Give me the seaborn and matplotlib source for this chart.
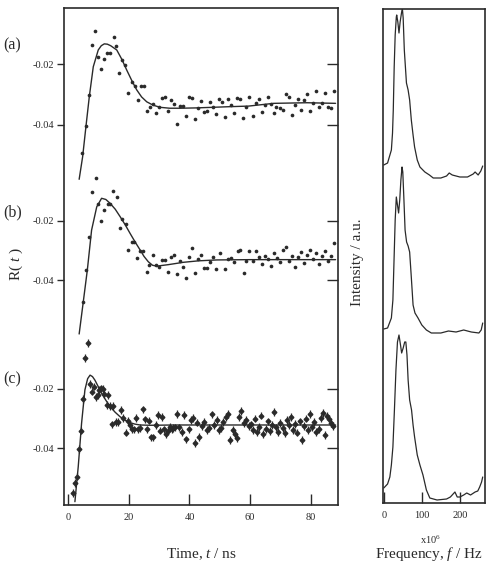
import numpy as np
import pandas as pd
import seaborn as sns
import matplotlib
matplotlib.use("Agg")
import matplotlib.pyplot as plt

# ---- R(t) panel (a) : measured points and fitted curve
t_a = [4.6, 5.85, 6.85, 7.8, 8.9, 9.8, 10.8, 11.9, 12.9, 13.8,
       15.0, 15.9, 16.9, 17.9, 18.8, 19.8, 20.9, 21.9, 22.9, 23.9,
       24.9, 25.9, 26.9, 27.9, 28.9, 29.9, 30.9, 31.9, 32.9, 33.9,
       34.8, 35.8, 36.8, 37.8, 38.8, 39.8, 40.8, 41.8, 42.8, 43.8,
       44.8, 45.8, 46.7, 47.7, 48.8, 49.8, 50.8, 51.8, 52.8, 53.8,
       54.8, 55.8, 56.8, 57.8, 58.7, 59.7,
       60.8, 61.8, 62.8, 63.8, 64.8, 65.8, 66.8, 67.8, 68.7, 69.8,
       70.7, 71.7, 72.7, 73.7, 74.7, 75.7, 76.7, 77.7, 78.8, 79.8,
       80.8, 81.8, 82.8, 83.8, 84.8, 85.8, 86.7, 87.8]
r_a = [-0.0493, -0.0403, -0.0300, -0.0138, -0.0091, -0.0176, -0.0217, -0.0185, -0.0163, -0.0163,
       -0.0111, -0.0140, -0.0230, -0.0187, -0.0203, -0.0294, -0.0258, -0.0272, -0.0318, -0.0272,
       -0.0272, -0.0353, -0.0340, -0.0331, -0.0362, -0.0342, -0.0312, -0.0309, -0.0353, -0.0318,
       -0.0331, -0.0397, -0.0338, -0.0338, -0.0370, -0.0309, -0.0312, -0.0381, -0.0345, -0.0320,
       -0.0356, -0.0353, -0.0324, -0.0342, -0.0364, -0.0316, -0.0324, -0.0373, -0.0316, -0.0334,
       -0.0362, -0.0310, -0.0316, -0.0378, -0.0340, -0.0309,
       -0.0370, -0.0327, -0.0316, -0.0356, -0.0334, -0.0307, -0.0331, -0.0362, -0.0340, -0.0345,
       -0.0351, -0.0298, -0.0309, -0.0367, -0.0334, -0.0316, -0.0351, -0.0318, -0.0298, -0.0353,
       -0.0327, -0.0288, -0.0340, -0.0327, -0.0294, -0.0342, -0.0345, -0.0288]
t_a_fit = [3.6, 4.75, 5.85, 6.95, 8.26, 9.9, 10.9, 11.9, 12.9, 14.0, 16.0, 17.7, 19.3, 21.0,
           22.6, 24.2, 25.9, 28.0, 30.3, 33.5, 36.9, 42, 47.7, 53, 59.5, 67.8, 78.8, 88.2]
r_a_fit = [-0.0578, -0.0504, -0.0404, -0.0307, -0.0209, -0.0154, -0.0140, -0.0134, -0.0135,
           -0.0140, -0.0154, -0.0185, -0.0220, -0.0255, -0.0285, -0.0308, -0.0324, -0.0335,
           -0.0342, -0.0345, -0.0345, -0.0344, -0.0342, -0.0340, -0.0338, -0.0329, -0.0327, -0.0329]

# ---- panel (b)
t_b = [4.96, 5.85, 6.85, 7.8, 9.05, 9.9, 10.9, 11.9, 13.0, 13.9,
       14.9, 16.0, 17.1, 17.9, 19.0, 19.8, 20.9, 21.7, 22.8, 23.7,
       24.8, 25.9, 26.8, 27.9, 28.9, 29.9, 30.9, 31.9, 32.9, 33.9,
       34.8, 35.8, 36.8, 37.9, 38.8, 39.9, 40.8, 41.9, 42.9, 43.9,
       44.9, 45.8, 46.8, 47.8, 48.8, 50.1, 51.8, 52.8, 53.8, 54.8,
       55.9, 56.8, 57.9, 58.7, 59.5,
       60.8, 61.8, 62.8, 63.8, 64.8, 65.8, 66.8, 67.8, 68.8, 69.8,
       70.8, 71.8, 72.8, 73.8, 74.8, 75.8, 76.8, 77.8, 78.8, 79.8,
       80.8, 81.8, 82.8, 83.8, 84.8, 85.8, 86.8, 87.8]
r_b = [-0.0474, -0.0366, -0.0253, -0.0101, -0.0055, -0.0143, -0.0200, -0.0163, -0.0143, -0.0143,
       -0.0098, -0.0118, -0.0225, -0.0194, -0.0211, -0.0298, -0.0270, -0.0270, -0.0326, -0.0301,
       -0.0301, -0.0374, -0.0349, -0.0315, -0.0349, -0.0355, -0.0332, -0.0332, -0.0374, -0.0321,
       -0.0315, -0.0380, -0.0335, -0.0355, -0.0394, -0.0321, -0.0293, -0.0375, -0.0330, -0.0315,
       -0.0360, -0.0360, -0.0338, -0.0321, -0.0364, -0.0309, -0.0363, -0.0330, -0.0326, -0.0340,
       -0.0301, -0.0298, -0.0375, -0.0335, -0.0301,
       -0.0336, -0.0300, -0.0321, -0.0345, -0.0318, -0.0330, -0.0352, -0.0309, -0.0326, -0.0340,
       -0.0297, -0.0288, -0.0335, -0.0318, -0.0356, -0.0322, -0.0305, -0.0341, -0.0314, -0.0298,
       -0.0330, -0.0310, -0.0346, -0.0320, -0.0302, -0.0336, -0.0318, -0.0276]
t_b_fit = [3.6, 4.96, 6.3, 7.7, 9.4, 11.0, 12.4, 13.8, 15.5, 17.1, 18.8, 20.4, 22.0, 23.7,
           25.0, 26.4, 27.8, 29.2, 33, 38, 43, 49, 60, 70, 80, 88.2]
r_b_fit = [-0.0583, -0.0474, -0.0366, -0.0231, -0.0152, -0.0123, -0.0127, -0.0140, -0.0160,
           -0.0185, -0.0213, -0.0242, -0.0270, -0.0298, -0.0320, -0.0338, -0.0350, -0.0353,
           -0.0348, -0.0340, -0.0335, -0.0332, -0.0331, -0.0331, -0.0331, -0.0331]

# ---- panel (c), points carry error bars
t_c = [1.66, 2.2, 3.0, 3.5, 4.2, 5.0, 5.6, 6.4, 7.2, 7.9,
       8.6, 9.2, 9.7, 10.2, 10.8, 11.4, 11.9, 12.7, 13.2, 13.8,
       14.3, 14.9, 15.8, 16.5, 17.4, 18.2, 19.0, 19.6, 20.4, 20.9,
       21.7, 22.4, 23.1, 23.7, 24.6, 25.4, 26.1, 26.8, 27.4, 28.1,
       28.9, 29.6, 30.3, 31.0, 31.6, 32.3, 32.9, 33.5, 34.2, 34.7,
       35.3, 36.0, 36.7, 37.4, 38.2, 38.9, 39.7, 40.5, 41.0, 41.9,
       42.6, 43.3, 44.1, 44.9, 45.8, 46.4, 47.4, 48.2, 49.1, 49.8,
       50.5, 51.2, 52.1, 52.8, 53.5, 54.2, 54.9, 55.7, 56.3, 57.0,
       57.9, 58.7, 59.5,
       60.2, 60.9, 61.6, 62.3, 63.0, 63.7, 64.4, 65.1, 65.8, 66.5,
       67.2, 67.9, 68.6, 69.3, 70.0, 70.7, 71.4, 72.1, 72.8, 73.5,
       74.2, 74.9, 75.6, 76.3, 77.0, 77.7, 78.4, 79.1, 79.8, 80.5,
       81.2, 81.9, 82.6, 83.3, 84.0, 84.7, 85.4, 86.1, 86.8, 87.5]
r_c = [-0.0552, -0.0518, -0.0497, -0.0404, -0.0341, -0.0235, -0.0096, -0.0045, -0.0184, -0.0209,
       -0.0192, -0.0226, -0.0220, -0.0203, -0.0198, -0.0201, -0.0218, -0.0254, -0.0220, -0.0258,
       -0.0320, -0.0258, -0.0311, -0.0311, -0.0271, -0.0299, -0.0348, -0.0308, -0.0322, -0.0337,
       -0.0337, -0.0299, -0.0337, -0.0333, -0.0269, -0.0303, -0.0337, -0.0307, -0.0364, -0.0364,
       -0.0322, -0.0288, -0.0341, -0.0296, -0.0337, -0.0353, -0.0341, -0.0328, -0.0337, -0.0333,
       -0.0330, -0.0285, -0.0330, -0.0345, -0.0288, -0.0371, -0.0337, -0.0305, -0.0299, -0.0384,
       -0.0314, -0.0362, -0.0325, -0.0311, -0.0339, -0.0333, -0.0286, -0.0322, -0.0305, -0.0339,
       -0.0333, -0.0311, -0.0294, -0.0285, -0.0373, -0.0339, -0.0353, -0.0367, -0.0294, -0.0274,
       -0.0316, -0.0305, -0.0325,
       -0.0320, -0.0338, -0.0300, -0.0345, -0.0328, -0.0290, -0.0352, -0.0335, -0.0310, -0.0342,
       -0.0322, -0.0278, -0.0330, -0.0345, -0.0315, -0.0333, -0.0350, -0.0305, -0.0322, -0.0295,
       -0.0338, -0.0318, -0.0348, -0.0310, -0.0372, -0.0325, -0.0300, -0.0340, -0.0285, -0.0330,
       -0.0312, -0.0345, -0.0335, -0.0298, -0.0282, -0.0355, -0.0290, -0.0300, -0.0315, -0.0325]
t_c_fit = [2.2, 3.3, 4.4, 5.5, 6.4, 7.2, 8.0, 8.8, 9.9, 11.0, 12.4, 13.8, 15.5, 17.1, 18.8,
           20.4, 22.0, 23.7, 27, 35, 50, 70, 88.2]
r_c_fit = [-0.0582, -0.0463, -0.0316, -0.0203, -0.0165, -0.0153, -0.0158, -0.0170, -0.0192,
           -0.0215, -0.0238, -0.0260, -0.0279, -0.0294, -0.0306, -0.0314, -0.0319, -0.0322,
           -0.0323, -0.0322, -0.0322, -0.0322, -0.0322]
c_err = 0.0013

# ---- spectra, intensity (a.u.) above each trace's own floor
f_a = [0, 10, 20, 23, 25, 27.4, 30, 33, 34, 37, 40, 43, 47, 49, 51, 54, 59.6, 64, 68, 72.4,
       77, 81, 88, 95, 108, 120, 130, 150, 165, 172, 180, 200, 220, 235, 240, 248, 255, 260]
i_a = [13, 15, 28, 45, 68, 111, 143, 161, 163, 156, 145, 156, 166, 169, 160, 128, 95, 88, 78, 58,
       43, 31, 18, 11, 6, 3, 0, 0, 2, 5, 3, 1, 1, 4, 6, 3, 7, 12]
f_b = [0, 10, 20, 24, 27, 30, 33, 36, 39, 42, 45, 48, 50, 53, 56, 60, 64, 68, 72, 77, 82, 90,
       100, 112, 125, 150, 170, 190, 210, 230, 250, 256, 260]
i_b = [4, 5, 15, 33, 73, 113, 136, 128, 120, 133, 153, 166, 161, 133, 103, 91, 87, 81, 58, 28,
       20, 15, 8, 3, 0, 0, 2, 1, 3, 1, 0, 3, 10]
f_c = [0, 10, 16, 20, 24, 28, 32, 36, 40, 44, 47, 51, 55, 58, 61, 64, 68, 73, 77, 81, 88, 95,
       103, 112, 121, 140, 165, 175, 187, 193, 200, 210, 218, 228, 240, 247, 252, 257, 260]
i_c = [12, 16, 23, 35, 53, 90, 130, 158, 165, 155, 147, 152, 158, 158, 145, 120, 100, 90, 75,
       63, 45, 35, 25, 10, 2, 0, 1, 3, 8, 3, 3, 5, 7, 5, 8, 9, 13, 18, 23]

sns.set_style("ticks")
plt.rcParams['font.family'] = ['Liberation Serif', 'DejaVu Serif']
plt.rcParams['mathtext.fontset'] = 'custom'
plt.rcParams['mathtext.rm'] = 'Liberation Serif'
plt.rcParams['mathtext.it'] = 'Liberation Serif:italic'

INK = '#2a2a2a'
W, H = 490, 568
fig = plt.figure(figsize=(W / 100, H / 100), dpi=100)


def box(l, t, r, b):
    return [l / W, 1 - b / H, (r - l) / W, (b - t) / H]


L_TOP, L_BOT = 8, 505


def ylim_from(p02, p04):
    # pixel rows where -0.02 and -0.04 sit for this trace
    per_px = 0.02 / (p04 - p02)
    return (-0.04 - (L_BOT - p04) * per_px, -0.02 + (p02 - L_TOP) * per_px)


panels = [("(a)", t_a, r_a, t_a_fit, r_a_fit, (64, 125), 45),
          ("(b)", t_b, r_b, t_b_fit, r_b_fit, (221, 280), 212),
          ("(c)", t_c, r_c, t_c_fit, r_c_fit, (389, 448), 379)]

for k, (tag, t, r, tf, rf, ticks_px, tag_y) in enumerate(panels):
    ax = fig.add_axes(box(64, L_TOP, 338, L_BOT))
    ax.patch.set_alpha(0)
    if tag == "(c)":
        ax.errorbar(t, r, yerr=c_err, fmt='D', ms=2.4, color=INK, mec=INK,
                    elinewidth=0.9, capsize=0, zorder=3)
    else:
        sns.scatterplot(x=t, y=r, ax=ax, color=INK, s=7, linewidth=0, zorder=3)
    sns.lineplot(x=tf, y=rf, ax=ax, color=INK, lw=1.0, sort=False, estimator=None)
    ax.set_xlim(-1.4, 89)
    ax.set_ylim(*ylim_from(*ticks_px))
    ax.set_yticks([-0.02, -0.04])
    ax.set_yticklabels(['-0.02', '-0.04'])
    ax.tick_params(axis='y', direction='out', length=5, width=1.0, color=INK,
                   labelsize=7.5, labelcolor=INK, pad=2)
    sec = ax.secondary_yaxis('right')
    sec.set_yticks([-0.02, -0.04])
    sec.tick_params(direction='in', length=8, width=1.0, color=INK, labelright=False)
    sec.spines['right'].set_visible(False)
    ax.set_xlabel('')
    ax.set_ylabel('')
    if k == 0:
        for s in ax.spines.values():
            s.set_linewidth(1.2)
            s.set_color(INK)
        ax.set_xticks([0, 20, 40, 60, 80])
        ax.tick_params(axis='x', direction='in', length=8, width=1.0, color=INK,
                       labelsize=7.5, labelcolor=INK, pad=6)
    else:
        for s in ax.spines.values():
            s.set_visible(False)
        ax.set_xticks([])
    fig.text(12.5 / W, 1 - tag_y / H, tag, fontsize=11.5, color=INK,
             ha='center', va='center')

fig.text(201 / W, 1 - 554 / H, r"Time, $t$ / ns", fontsize=11, color=INK,
         ha='center', va='center')
fig.text(16 / W, 1 - 264 / H, r"R( $t$ )", fontsize=11, color=INK, rotation=90,
         ha='center', va='center')

# ---- spectra panel
axs = fig.add_axes(box(383, 9, 485, 503))
offsets = [325, 170, 3]
for f, i, off in zip([f_a, f_b, f_c], [i_a, i_b, i_c], offsets):
    sns.lineplot(x=f, y=np.array(i) + off, ax=axs, color=INK, lw=0.9,
                 sort=False, estimator=None)
axs.set_xlim(-2, 266)
axs.set_ylim(0, 494)
axs.set_yticks([])
axs.set_xticks([0, 100, 200])
axs.tick_params(axis='x', direction='in', length=8, width=1.0, color=INK,
                labelsize=7.5, labelcolor=INK, pad=6)
for s in axs.spines.values():
    s.set_linewidth(1.2)
    s.set_color(INK)

fig.text(357 / W, 1 - 262 / H, "Intensity / a.u.", fontsize=11, color=INK,
         rotation=90, ha='center', va='center')
fig.text(431 / W, 1 - 540 / H, r"x10$^6$", fontsize=7.5, color=INK,
         ha='center', va='center')
fig.text(429 / W, 1 - 554 / H, r"Frequency, $f$ / Hz", fontsize=11, color=INK,
         ha='center', va='center')

fig.savefig('out.png', dpi=100)
